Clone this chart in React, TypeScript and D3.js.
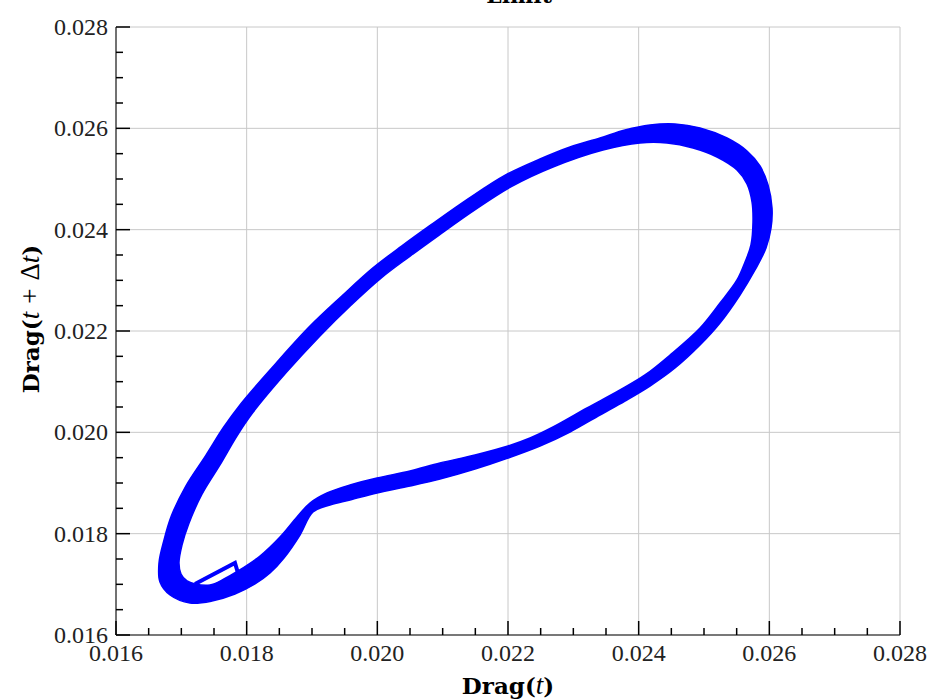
import React from "react";
import * as d3 from "d3";

// ---- data ----
const xTicks = [0.016, 0.018, 0.02, 0.022, 0.024, 0.026, 0.028];
const yTicks = [0.016, 0.018, 0.02, 0.022, 0.024, 0.026, 0.028];
const tickLabels = ["0.016", "0.018", "0.020", "0.022", "0.024", "0.026", "0.028"];

// outer envelope of the attractor band (Drag(t), Drag(t+Δt))
const outerX = [
  0.017133, 0.017469, 0.017821, 0.018128, 0.018357, 0.018571, 0.018816, 0.019015, 0.019276, 0.019582,
  0.019995, 0.0205, 0.020959, 0.021495, 0.022, 0.02249, 0.022949, 0.023408, 0.023791, 0.024173,
  0.024556, 0.024939, 0.025245, 0.025551, 0.025781, 0.025949, 0.026026, 0.026041, 0.02598, 0.025857,
  0.025658, 0.025352, 0.024939, 0.024556, 0.024173, 0.023791, 0.023408, 0.022949, 0.02249,
  0.02195, 0.021394, 0.020824, 0.020376, 0.019929, 0.019452, 0.018969, 0.018446, 0.017915, 0.017644,
  0.017373, 0.017071, 0.016845, 0.016735, 0.016658, 0.016673, 0.016827,
];
const outerY = [
  0.016632, 0.016671, 0.016809, 0.017007, 0.017224, 0.01752, 0.017974, 0.018428, 0.018566, 0.018664,
  0.018803, 0.018941, 0.019079, 0.019276, 0.019493, 0.01973, 0.020007, 0.020342, 0.020618, 0.020914,
  0.02127, 0.021724, 0.022158, 0.022711, 0.023204, 0.023638, 0.024033, 0.024428, 0.024882, 0.025257,
  0.025553, 0.025809, 0.026007, 0.026086, 0.026066, 0.025967, 0.025809, 0.025632, 0.025395,
  0.025071, 0.024613, 0.024098, 0.02368, 0.023241, 0.022685, 0.022097, 0.021361, 0.020571, 0.020095,
  0.019541, 0.018945, 0.018343, 0.017875, 0.017421, 0.017046, 0.016789,
];
// inner envelope of the attractor band
const innerX = [
  0.017209, 0.017439, 0.017653, 0.017867, 0.018204, 0.01851, 0.01877, 0.018969, 0.01923, 0.019582,
  0.019995, 0.0205, 0.020959, 0.021495, 0.022, 0.022337, 0.022689, 0.023209, 0.023714, 0.024097,
  0.02448, 0.024939, 0.025245, 0.025505, 0.025628, 0.025719, 0.02575, 0.025735, 0.025658, 0.025505,
  0.025199, 0.024832, 0.024434, 0.02402, 0.023454, 0.022689,
  0.022051, 0.021504, 0.020941, 0.020502, 0.020061, 0.019589, 0.019122, 0.018605, 0.018095, 0.017846,
  0.017596, 0.017316, 0.017114, 0.01701, 0.016964, 0.016995, 0.017087,
];
const innerY = [
  0.017007, 0.016987, 0.017105, 0.017263, 0.017559, 0.017934, 0.018329, 0.018605, 0.018803, 0.018961,
  0.019099, 0.019237, 0.019395, 0.019553, 0.01973, 0.019888, 0.020105, 0.02048, 0.020836, 0.021132,
  0.021526, 0.022059, 0.022553, 0.023007, 0.023362, 0.023697, 0.024151, 0.024546, 0.024901, 0.025178,
  0.025434, 0.025612, 0.025711, 0.025711, 0.025572, 0.025237,
  0.02485, 0.0244, 0.023889, 0.023478, 0.023048, 0.022499, 0.021903, 0.021179, 0.02039, 0.019918,
  0.019367, 0.018779, 0.018197, 0.017776, 0.017421, 0.017204, 0.017066,
];
// initial transient
const transientX = [0.017209, 0.017821, 0.017867];
const transientY = [0.017007, 0.017421, 0.017224];

const W = 929;
const H = 699;
const M = { left: 116, right: 900, top: 27, bottom: 635 };

export default function App() {
  const x = d3.scaleLinear().domain([0.016, 0.028]).range([M.left, M.right]);
  const y = d3.scaleLinear().domain([0.016, 0.028]).range([M.bottom, M.top]);

  const closed = d3
    .line<[number, number]>()
    .x((d) => x(d[0]))
    .y((d) => y(d[1]))
    .curve(d3.curveCatmullRomClosed.alpha(0.5));
  const open = d3
    .line<[number, number]>()
    .x((d) => x(d[0]))
    .y((d) => y(d[1]));

  const outer: [number, number][] = outerX.map((v, i) => [v, outerY[i]]);
  const inner: [number, number][] = innerX.map((v, i) => [v, innerY[i]]);
  const trans: [number, number][] = transientX.map((v, i) => [v, transientY[i]]);
  const bandPath = (closed(outer) || "") + " " + (closed(inner) || "");

  const minorX = d3.range(0, 25).map((i) => 0.016 + i * 0.0005);
  const minorY = d3.range(0, 25).map((i) => 0.016 + i * 0.0005);

  const serif = "'Liberation Serif', 'Times New Roman', serif";
  const boldSerif = "'DejaVu Serif', 'Liberation Serif', serif";

  return (
    <svg width={W} height={H} style={{ position: "absolute", left: 0, top: 0, background: "#fff" }}>
      {/* grid */}
      {xTicks.map((t) => (
        <line key={"gx" + t} x1={x(t)} x2={x(t)} y1={M.top} y2={M.bottom} stroke="#c8c8c8" strokeWidth={1} />
      ))}
      {yTicks.map((t) => (
        <line key={"gy" + t} x1={M.left} x2={M.right} y1={y(t)} y2={y(t)} stroke="#c8c8c8" strokeWidth={1} />
      ))}

      {/* band */}
      <path d={bandPath} fill="#0000ff" fillRule="evenodd" stroke="#0000ff" strokeWidth={1.5} strokeLinejoin="round" />
      <path d={open(trans) || ""} fill="none" stroke="#0000ff" strokeWidth={4} strokeLinejoin="miter" />

      {/* axes */}
      <line x1={M.left} x2={M.left} y1={M.top} y2={M.bottom} stroke="#555" strokeWidth={1.6} />
      <line x1={M.left} x2={M.right} y1={M.bottom} y2={M.bottom} stroke="#555" strokeWidth={1.6} />
      {minorX.map((t, i) => (
        <line key={"mx" + i} x1={x(t)} x2={x(t)} y1={M.bottom} y2={M.bottom - (i % 4 === 0 ? 14 : 7)} stroke="#000" strokeWidth={1.5} />
      ))}
      {minorY.map((t, i) => (
        <line key={"my" + i} x1={M.left} x2={M.left + (i % 4 === 0 ? 14 : 7)} y1={y(t)} y2={y(t)} stroke="#000" strokeWidth={1.5} />
      ))}
      {xTicks.map((t, i) => (
        <text key={"xl" + t} x={x(t)} y={661} textAnchor="middle" fontFamily={serif} fontSize={24} fill="#222">
          {tickLabels[i]}
        </text>
      ))}
      {yTicks.map((t, i) => (
        <text key={"yl" + t} x={108} y={y(t)} dy="0.34em" textAnchor="end" fontFamily={serif} fontSize={24} fill="#222">
          {tickLabels[i]}
        </text>
      ))}

      {/* titles */}
      <text x={519} y={3} textAnchor="middle" fontFamily={boldSerif} fontWeight="bold" fontSize={22} fill="#000">
        Limit
      </text>
      <text x={(M.left + M.right) / 2} y={694} textAnchor="middle" fontFamily={boldSerif} fontWeight="bold" fontSize={23} fill="#000">
        Drag(<tspan fontStyle="italic" fontWeight="normal" fontFamily={serif} fontSize={27}>t</tspan>)
      </text>
      <text transform={`translate(39, 319) rotate(-90)`} textAnchor="middle" fontFamily={boldSerif} fontWeight="bold" fontSize={23} fill="#000">
        Drag(<tspan fontStyle="italic" fontWeight="normal" fontFamily={serif} fontSize={27}>t</tspan>
        <tspan dx={8} fontWeight="normal" fontFamily={serif} fontSize={27}>+</tspan>
        <tspan dx={8} fontWeight="normal" fontFamily={serif} fontSize={27}>Δ</tspan>
        <tspan fontStyle="italic" fontWeight="normal" fontFamily={serif} fontSize={27}>t</tspan>)
      </text>
    </svg>
  );
}
